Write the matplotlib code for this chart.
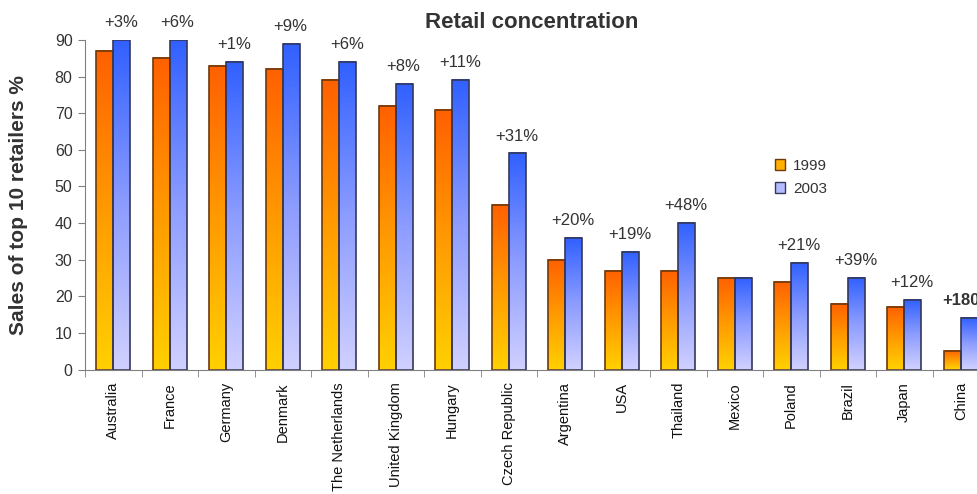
import numpy as np
import matplotlib.pyplot as plt
from matplotlib.patches import Patch
from matplotlib.colors import LinearSegmentedColormap

plt.rcParams['font.family'] = ['Liberation Sans', 'DejaVu Sans']

countries = ['Australia', 'France', 'Germany', 'Denmark', 'The Netherlands',
             'United Kingdom', 'Hungary', 'Czech Republic', 'Argentina', 'USA',
             'Thailand', 'Mexico', 'Poland', 'Brazil', 'Japan', 'China']
share_1999 = [87, 85, 83, 82, 79, 72, 71, 45, 30, 27, 27, 25, 24, 18, 17, 5]
share_2003 = [90, 90, 84, 89, 84, 78, 79, 59, 36, 32, 40, 25, 29, 25, 19, 14]
growth = ['+3%', '+6%', '+1%', '+9%', '+6%', '+8%', '+11%', '+31%', '+20%',
          '+19%', '+48%', '', '+21%', '+39%', '+12%', '+180%']

# vertical gradients: bottom colour -> top colour
cmap_1999 = LinearSegmentedColormap.from_list('c1999', ['#FFD000', '#FF9A00', '#FF6000'])
cmap_2003 = LinearSegmentedColormap.from_list('c2003', ['#D0D0FF', '#8C9CFF', '#3060FF'])

fig = plt.figure(figsize=(9.77, 4.94), dpi=100)
ax = fig.add_axes([85 / 977, 124.5 / 494, 904 / 977, 329.5 / 494])

x = np.arange(len(countries))
w = 0.3
grad = np.linspace(0, 1, 256).reshape(-1, 1)


def gradient_bars(xpos, vals, cmap, edge):
    bars = ax.bar(xpos, vals, w, facecolor='none', edgecolor=edge,
                  linewidth=1.2, zorder=3)
    for b in bars:
        x0 = b.get_x()
        h = b.get_height()
        ax.imshow(grad, cmap=cmap, origin='lower', aspect='auto',
                  extent=[x0, x0 + b.get_width(), 0, h], zorder=2)
    return bars


gradient_bars(x - w / 2, share_1999, cmap_1999, '#6B3A10')
gradient_bars(x + w / 2, share_2003, cmap_2003, '#34385A')

for i, g in enumerate(growth):
    if not g:
        continue
    top = max(share_1999[i], share_2003[i])
    ax.annotate(g, (x[i] + 0.14, top), xytext=(0, 12.5), textcoords='offset points',
                ha='center', va='center', fontsize=12, color='#333333',
                fontweight='bold' if g == '+180%' else 'normal',
                annotation_clip=False)

ax.set_xlim(-0.5, len(countries) - 0.5)
ax.set_ylim(0, 90)
ax.set_yticks(range(0, 91, 10))
ax.tick_params(axis='y', labelsize=11.5, colors='#808080', labelcolor='#333333',
               length=5, direction='out', pad=4)
ax.set_xticks(x)
ax.set_xticklabels(countries, rotation=90, fontsize=10.5, color='#111111')
ax.tick_params(axis='x', length=0, pad=9)
ax.set_xticks(np.arange(-0.5, len(countries), 1), minor=True)
ax.tick_params(axis='x', which='minor', length=5, color='#808080')

for side in ['top', 'right']:
    ax.spines[side].set_visible(False)
for side in ['left', 'bottom']:
    ax.spines[side].set_color('#808080')

ax.set_ylabel('Sales of top 10 retailers %', fontsize=15, fontweight='bold',
              color='#333333')
ax.yaxis.set_label_coords(-57 / 904, 0.5)

fig.text(532 / 977, 1 - 22 / 494, 'Retail concentration', ha='center',
         va='center', fontsize=16, fontweight='bold', color='#333333')

handles = [Patch(facecolor='#FFB000', edgecolor='#6B3A10', label='1999'),
           Patch(facecolor='#B4BCFF', edgecolor='#34385A', label='2003')]
fig.legend(handles=handles, loc='upper left', bbox_to_anchor=(761 / 977, 1 - 145 / 494),
           frameon=False, handlelength=0.7, handleheight=0.7, handletextpad=0.5,
           labelspacing=0.6, fontsize=11, labelcolor='#333333')

fig.savefig('out.png', dpi=100)
